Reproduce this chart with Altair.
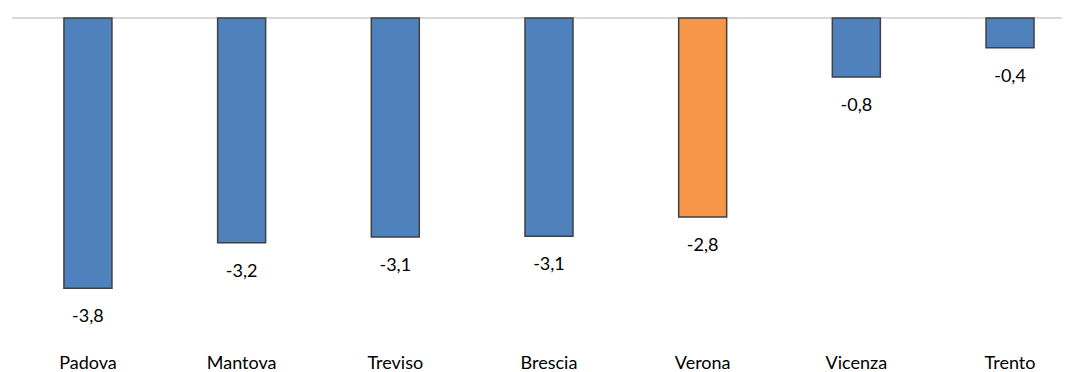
import altair as alt
import pandas as pd

cities = ["Padova", "Mantova", "Treviso", "Brescia", "Verona", "Vicenza", "Trento"]
values = [-3.8, -3.16, -3.08, -3.07, -2.8, -0.83, -0.42]
labels = ["-3,8", "-3,2", "-3,1", "-3,1", "-2,8", "-0,8", "-0,4"]
highlight = ["no", "no", "no", "no", "yes", "no", "no"]

df = pd.DataFrame({"city": cities, "value": values, "label": labels, "hl": highlight})
zero_df = pd.DataFrame({"z": [0.0]})

FONT = "Lato"
FS = 18

x = alt.X("city:N", sort=cities, title=None,
          scale=alt.Scale(paddingInner=0.6876, paddingOuter=0.26, align=0.65),
          axis=alt.Axis(orient="bottom", domain=False, ticks=False, labelAngle=0,
                        labelFont=FONT, labelFontSize=FS, labelColor="#000000",
                        labelPadding=9, grid=False))
yscale = alt.Scale(domain=[-4.6, 0], nice=False)
y = alt.Y("value:Q", title=None, scale=yscale, axis=None)

zero = alt.Chart(zero_df).mark_rule(color="#D9D9D9", strokeWidth=2).encode(
    y=alt.Y("z:Q", scale=yscale, axis=None)
)

bars = alt.Chart(df).mark_bar(stroke="#404040", strokeWidth=1.5).encode(
    x=x, y=y,
    color=alt.Color("hl:N", scale=alt.Scale(domain=["no", "yes"], range=["#4F81BD", "#F79646"]),
                    legend=None),
)

text = alt.Chart(df).mark_text(dy=29, font=FONT, fontSize=FS, color="#000000", baseline="middle").encode(
    x=x, y=y, text="label:N"
)

chart = alt.layer(zero, bars, text).properties(
    width=1050, height=327,
    padding={"left": 12, "top": 18, "right": 10, "bottom": 27},
    autosize=alt.AutoSizeParams(type="none"),
).configure_view(stroke=None)

chart.save("out.html", embed_options={"renderer": "svg", "actions": False})
